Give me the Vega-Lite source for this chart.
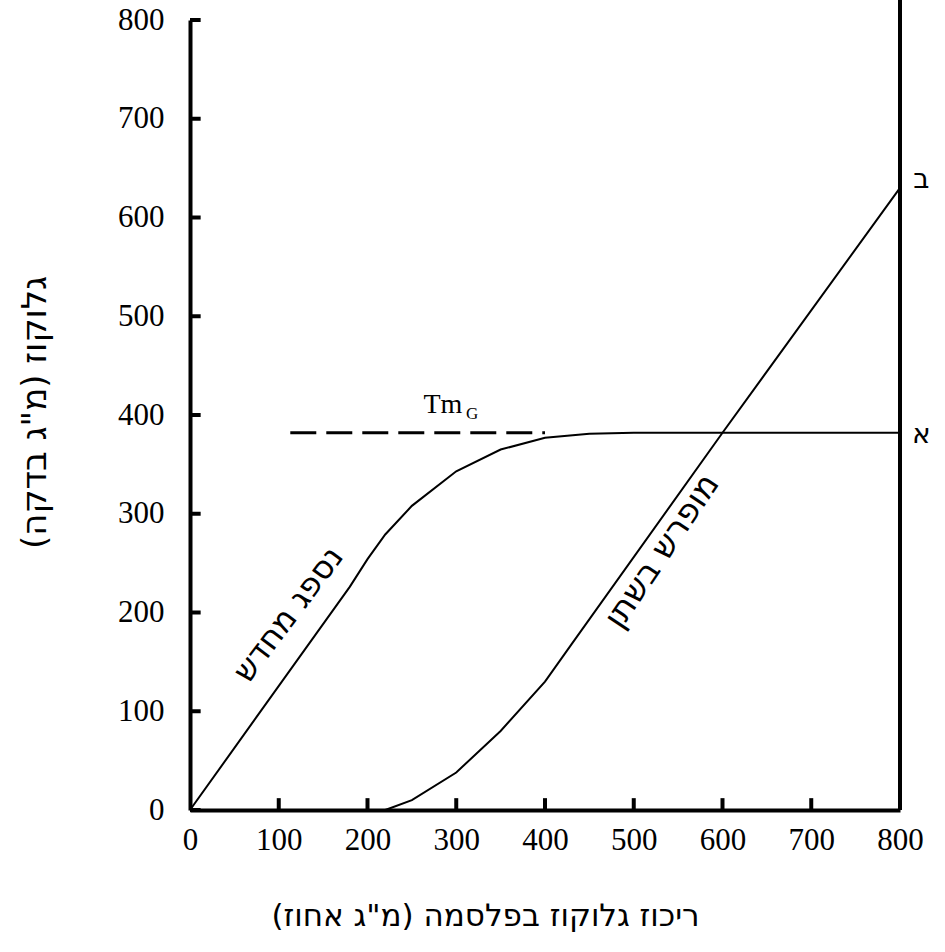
{
  "$schema": "https://vega.github.io/schema/vega-lite/v6.json",
  "width": 710,
  "height": 790,
  "autosize": "none",
  "padding": {"left": 190, "top": 20, "right": 45, "bottom": 142},
  "background": "white",
  "config": {"view": {"stroke": null}},
  "datasets": {
    "curves": [
      {"series": "reabsorbed", "x": 0, "y": 0},
      {"series": "reabsorbed", "x": 180, "y": 226},
      {"series": "reabsorbed", "x": 200, "y": 254},
      {"series": "reabsorbed", "x": 220, "y": 279},
      {"series": "reabsorbed", "x": 250, "y": 308},
      {"series": "reabsorbed", "x": 300, "y": 343},
      {"series": "reabsorbed", "x": 350, "y": 365},
      {"series": "reabsorbed", "x": 400, "y": 377},
      {"series": "reabsorbed", "x": 450, "y": 381},
      {"series": "reabsorbed", "x": 500, "y": 382},
      {"series": "reabsorbed", "x": 800, "y": 382},
      {"series": "excreted", "x": 220, "y": 0},
      {"series": "excreted", "x": 250, "y": 10},
      {"series": "excreted", "x": 300, "y": 38},
      {"series": "excreted", "x": 350, "y": 80},
      {"series": "excreted", "x": 400, "y": 130},
      {"series": "excreted", "x": 430, "y": 168},
      {"series": "excreted", "x": 600, "y": 382},
      {"series": "excreted", "x": 800, "y": 630}
    ],
    "labels": [
      {"label": "נספג מחדש", "x": 111, "y": 198, "angle": -53, "size": 32},
      {"label": "מופרש בשתן", "x": 532, "y": 262, "angle": -56, "size": 33},
      {"label": "ב", "x": 824, "y": 638, "angle": 0, "size": 28},
      {"label": "א", "x": 824, "y": 380, "angle": 0, "size": 28}
    ]
  },
  "layer": [
    {
      "data": {"name": "curves"},
      "mark": {"type": "line", "color": "black", "strokeWidth": 2, "clip": false},
      "encoding": {
        "x": {
          "field": "x", "type": "quantitative",
          "scale": {"domain": [0, 800], "nice": false},
          "axis": {
            "values": [0, 100, 200, 300, 400, 500, 600, 700, 800],
            "title": "ריכוז גלוקוז בפלסמה (מ\"ג אחוז)",
            "grid": false,
            "domainColor": "black", "domainWidth": 4,
            "ticks": false,
            "labelFont": "Liberation Serif", "labelFontSize": 31, "labelColor": "black",
            "labelPadding": 15,
            "labelFlush": false,
            "titleFont": "DejaVu Sans", "titleFontSize": 31, "titleFontWeight": "normal", "titleColor": "black",
            "titleX": 295, "titleY": 91, "titleAnchor": "middle", "titleAlign": "center"
          }
        },
        "y": {
          "field": "y", "type": "quantitative",
          "scale": {"domain": [0, 800], "nice": false},
          "axis": {
            "values": [0, 100, 200, 300, 400, 500, 600, 700, 800],
            "title": "גלוקוז (מ\"ג בדקה)",
            "grid": false,
            "domainColor": "black", "domainWidth": 4,
            "ticks": false,
            "labelFont": "Liberation Serif", "labelFontSize": 31, "labelColor": "black",
            "labelPadding": 26,
            "labelFlush": false,
            "titleFont": "DejaVu Sans", "titleFontSize": 34, "titleFontWeight": "normal", "titleColor": "black",
            "titleX": -155, "titleY": 392, "titleAngle": -90, "titleAlign": "center", "titleBaseline": "middle"
          }
        },
        "detail": {"field": "series"},
        "order": {"field": "x", "type": "quantitative"}
      }
    },
    {
      "data": {"values": [
        {"tx": 0, "tx2": 12, "ty": 0}, {"tx": 0, "tx2": 12, "ty": 100}, {"tx": 0, "tx2": 12, "ty": 200},
        {"tx": 0, "tx2": 12, "ty": 300}, {"tx": 0, "tx2": 12, "ty": 400}, {"tx": 0, "tx2": 12, "ty": 500},
        {"tx": 0, "tx2": 12, "ty": 600}, {"tx": 0, "tx2": 12, "ty": 700}, {"tx": 0, "tx2": 12, "ty": 800}
      ]},
      "mark": {"type": "rule", "color": "black", "strokeWidth": 4, "clip": false},
      "encoding": {
        "x": {"field": "tx", "type": "quantitative"},
        "x2": {"field": "tx2"},
        "y": {"field": "ty", "type": "quantitative"}
      }
    },
    {
      "data": {"values": [
        {"tx": 100, "ty": 0, "ty2": 12}, {"tx": 200, "ty": 0, "ty2": 12}, {"tx": 300, "ty": 0, "ty2": 12},
        {"tx": 400, "ty": 0, "ty2": 12}, {"tx": 500, "ty": 0, "ty2": 12}, {"tx": 600, "ty": 0, "ty2": 12},
        {"tx": 700, "ty": 0, "ty2": 12}
      ]},
      "mark": {"type": "rule", "color": "black", "strokeWidth": 4, "clip": false},
      "encoding": {
        "x": {"field": "tx", "type": "quantitative"},
        "y": {"field": "ty", "type": "quantitative"},
        "y2": {"field": "ty2"}
      }
    },
    {
      "data": {"values": [{"x": 113, "y": 382}, {"x": 400, "y": 382}]},
      "mark": {"type": "line", "color": "black", "strokeWidth": 3, "strokeDash": [26, 10]},
      "encoding": {
        "x": {"field": "x", "type": "quantitative"},
        "y": {"field": "y", "type": "quantitative"}
      }
    },
    {
      "data": {"values": [{"x": 800, "y": 0, "y2": 822}]},
      "mark": {"type": "rule", "color": "black", "strokeWidth": 4, "clip": false},
      "encoding": {
        "x": {"field": "x", "type": "quantitative"},
        "y": {"field": "y", "type": "quantitative"},
        "y2": {"field": "y2"}
      }
    },
    {
      "data": {"name": "labels"},
      "mark": {"type": "text", "font": "DejaVu Sans", "color": "black", "align": "center", "baseline": "middle"},
      "encoding": {
        "x": {"field": "x", "type": "quantitative"},
        "y": {"field": "y", "type": "quantitative"},
        "text": {"field": "label"},
        "angle": {"field": "angle", "type": "quantitative", "scale": null},
        "size": {"field": "size", "type": "quantitative", "scale": null}
      }
    },
    {
      "data": {"values": [{"label": "Tm", "x": 285, "y": 410}]},
      "mark": {"type": "text", "font": "Liberation Serif", "fontSize": 28, "color": "black", "align": "center", "baseline": "middle"},
      "encoding": {
        "x": {"field": "x", "type": "quantitative"},
        "y": {"field": "y", "type": "quantitative"},
        "text": {"field": "label"}
      }
    },
    {
      "data": {"values": [{"label": "G", "x": 318, "y": 401}]},
      "mark": {"type": "text", "font": "Liberation Serif", "fontSize": 17, "color": "black", "align": "center", "baseline": "middle"},
      "encoding": {
        "x": {"field": "x", "type": "quantitative"},
        "y": {"field": "y", "type": "quantitative"},
        "text": {"field": "label"}
      }
    }
  ]
}
